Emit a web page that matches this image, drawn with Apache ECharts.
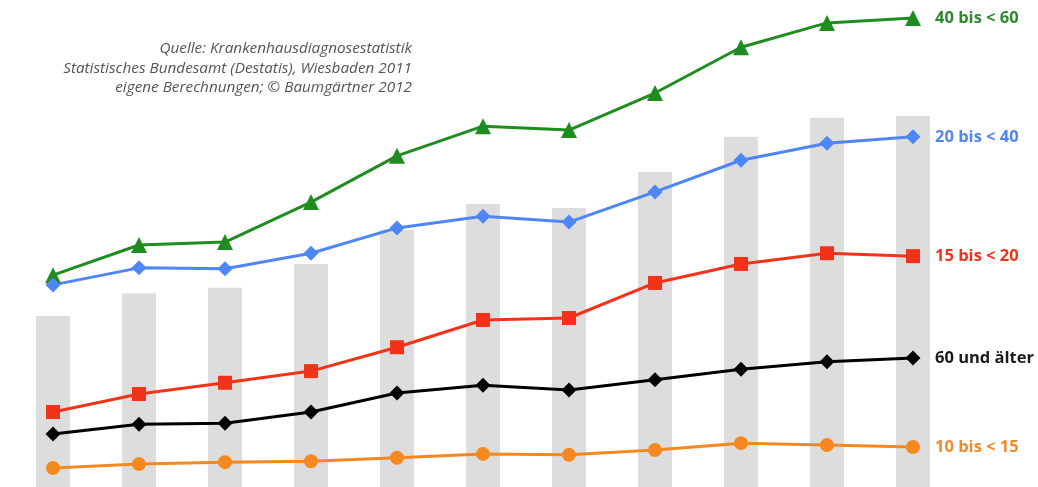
<!DOCTYPE html>
<html>
<head>
<meta charset="utf-8">
<script src="https://cdn.jsdelivr.net/npm/echarts@6/dist/echarts.min.js"></script>
<style>
  html, body { margin: 0; padding: 0; background: #fff; }
  #chart { width: 1038px; height: 487px; }
</style>
</head>
<body>
<div id="chart"></div>
<script>
const years = ['2000', '2001', '2002', '2003', '2004', '2005', '2006', '2007', '2008', '2009', '2010'];

// grey background bars (total)
const total = [35.1, 39.8, 40.9, 45.8, 52.8, 58.1, 57.3, 64.7, 71.9, 75.8, 76.2];

const age40to60 = [43.5, 49.7, 50.3, 58.5, 68.0, 74.1, 73.3, 80.9, 90.3, 95.3, 96.3];
const age20to40 = [41.5, 45.0, 44.8, 48.0, 53.2, 55.6, 54.4, 60.6, 67.1, 70.6, 71.9];
const age15to20 = [15.4, 19.1, 21.4, 23.8, 28.7, 34.3, 34.7, 41.9, 45.8, 48.0, 47.4];
const age60plus = [10.9, 12.9, 13.1, 15.4, 19.3, 20.9, 19.9, 22.0, 24.2, 25.7, 26.5];
const age10to15 = [3.9, 4.7, 5.1, 5.3, 6.0, 6.8, 6.6, 7.6, 9.0, 8.6, 8.2];

const chart = echarts.init(document.getElementById('chart'));

function lineSeries(name, data, color, labelColor, symbol, size) {
  return {
    name: name,
    type: 'line',
    data: data,
    symbol: symbol,
    symbolSize: size,
    z: 3,
    lineStyle: { color: color, width: 3 },
    itemStyle: { color: color },
    endLabel: {
      show: true,
      formatter: name,
      distance: 22,
      color: labelColor,
      fontFamily: 'Open Sans',
      fontWeight: 'bold',
      fontSize: 16.5
    }
  };
}

const option = {
  animation: false,
  title: {
    text: 'Quelle: Krankenhausdiagnosestatistik\nStatistisches Bundesamt (Destatis), Wiesbaden 2011\neigene Berechnungen; © Baumgärtner 2012',
    left: 407,
    top: 34,
    textAlign: 'right',
    textStyle: {
      fontFamily: 'Open Sans',
      fontStyle: 'italic',
      fontWeight: 'normal',
      fontSize: 15.3,
      color: '#555',
      lineHeight: 19.5
    }
  },
  grid: { left: 10, right: 82, top: 0, bottom: 0 },
  xAxis: {
    type: 'category',
    data: years,
    show: false
  },
  yAxis: {
    type: 'value',
    min: 0,
    max: 100,
    show: false
  },
  series: [
    {
      name: 'Gesamt',
      type: 'bar',
      data: total,
      barWidth: 34,
      z: 1,
      itemStyle: { color: '#dddddd' }
    },
    lineSeries('40 bis < 60', age40to60, '#1f8c1f', '#2f8a2f', 'triangle', 16),
    lineSeries('20 bis < 40', age20to40, '#4f86f7', '#4f86f7', 'diamond', 15),
    lineSeries('15 bis < 20', age15to20, '#f2331a', '#f2331a', 'rect', 14),
    lineSeries('60 und älter', age60plus, '#000000', '#1a1a1a', 'diamond', 15),
    lineSeries('10 bis < 15', age10to15, '#f5891f', '#f08a2c', 'circle', 14)
  ]
};

chart.setOption(option);
</script>
</body>
</html>
